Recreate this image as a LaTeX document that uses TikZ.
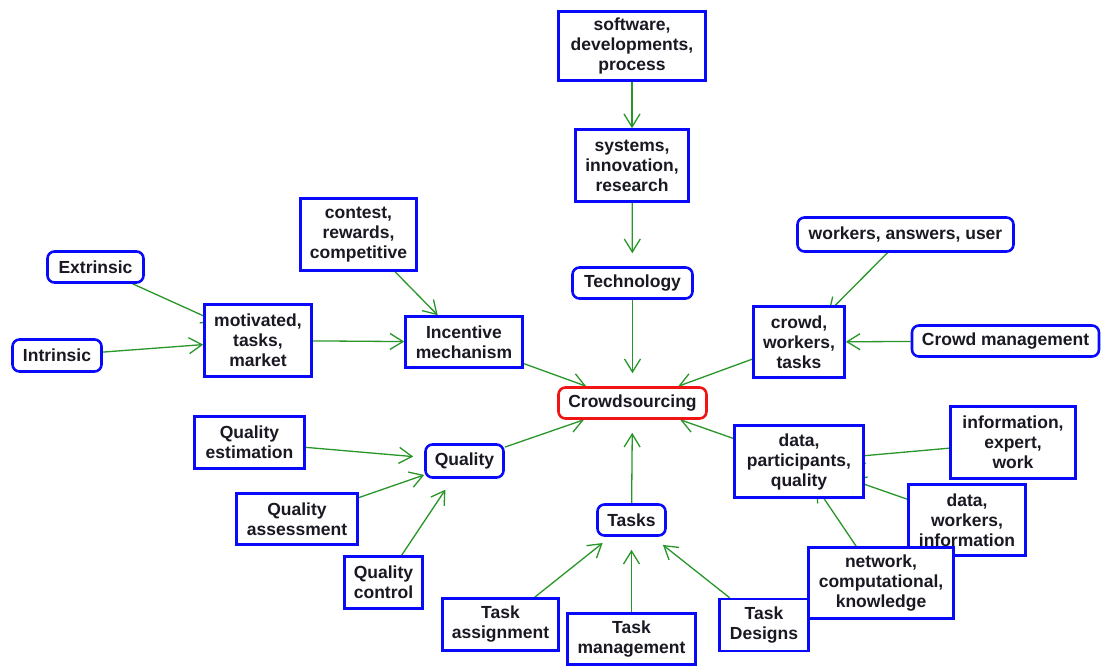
\documentclass[tikz,border=0pt]{standalone}
\usepackage{fontspec}
\setmainfont{Liberation Sans}
\usetikzlibrary{arrows.meta}
\pgfdeclarelayer{bg}
\pgfsetlayers{bg,main}
\definecolor{nodeblue}{RGB}{10,10,250}
\definecolor{nodered}{RGB}{240,20,20}
\definecolor{edgegreen}{RGB}{40,150,40}
\definecolor{txt}{RGB}{25,25,35}
\tikzset{
  box/.style={draw=nodeblue, line width=2.6pt, fill=white, inner sep=0pt, align=center,
    text=txt, font=\bfseries\fontsize{17.5}{20}\selectfont},
  rbox/.style={box, rounded corners=7pt},
  cbox/.style={rbox, draw=nodered},
  link/.style={draw=edgegreen, line width=1.3pt, -{Straight Barb[length=13pt,width=16pt]}},
  hid/.style={link, shorten >=-14pt},
}
\newcommand{\bx}[6]{\node[#1, minimum width=#4pt, minimum height=#5pt] (#2) at (#3) {#6};}
\begin{document}
\begin{tikzpicture}[x=1pt, y=-1pt]
\useasboundingbox (0,0) rectangle (1101,667);
\begin{pgfonlayer}{bg}
\fill[white] (0,0) rectangle (1101,667);
\end{pgfonlayer}
\bx{box}{software}{632,46}{147}{69}{software,\\developments,\\process}
\bx{box}{systems}{632,165.5}{113}{72}{systems,\\innovation,\\research}
\bx{rbox}{tech}{632.5,283}{120}{31}{Technology}
\bx{cbox}{crowds}{632.5,403}{148}{31}{Crowdsourcing}
\bx{box}{contest}{358.5,234.5}{116}{72}{contest,\\rewards,\\competitive}
\bx{rbox}{extr}{95.5,267}{96}{31}{Extrinsic}
\bx{rbox}{intr}{57,355.5}{89}{32}{Intrinsic}
\bx{box}{motiv}{258,340.5}{107}{72}{motivated,\\tasks,\\market}
\bx{box}{incent}{464,342}{117}{51}{Incentive\\mechanism}
\bx{rbox}{wau}{905.5,234.5}{216}{34}{workers, answers, user}
\bx{box}{crowd}{799,342}{91}{71}{crowd,\\workers,\\tasks}
\bx{rbox}{cm}{1005.5,341}{187}{31}{Crowd management}
\bx{box}{qest}{249.5,442.5}{110}{52}{Quality\\estimation}
\bx{rbox}{qual}{464.5,461}{78}{33}{Quality}
\bx{box}{qass}{297,519}{121}{51}{Quality\\assessment}
\bx{box}{qctl}{383.5,582.5}{78}{52}{Quality\\control}
\bx{rbox}{tasks}{631.5,520}{68}{31}{Tasks}
\bx{box}{tassign}{500.5,624.5}{116}{52}{Task\\assignment}
\bx{box}{tmgmt}{631.5,639}{128}{51}{Task\\management}
\bx{box}{dpq}{799,461.5}{129}{72}{data,\\participants,\\quality}
\bx{box}{iew}{1013,442.5}{125}{72}{information,\\expert,\\work}
\bx{box}{dwi}{967,520}{117}{71}{data,\\workers,\\information}
\bx{box}{nck}{881,583}{145}{71}{network,\\computational,\\knowledge}
\bx{box}{tdes}{764,625}{89}{52}{Task\\Designs}
\begin{pgfonlayer}{bg}
\draw[link] (software) -- (systems);
\draw[link, shorten >=13pt] (systems) -- (tech);
\draw[link, shorten >=13pt] (tech) -- (crowds);
\draw[link] (contest) -- (incent);
\draw[link] (motiv) -- (incent);
\draw[hid] (extr) -- (motiv);
\draw[link] (intr) -- (motiv);
\draw[link] (incent) -- (crowds);
\draw[link, shorten >=-10pt] (wau) -- (crowd);
\draw[link] (cm) -- (crowd);
\draw[link] (crowd) -- (crowds);
\draw[link, shorten >=11pt] (qest) -- (qual);
\draw[link] (qass) -- (qual);
\draw[link, shorten >=13pt] (qctl) -- (qual);
\draw[link] (qual) -- (crowds);
\draw[link, shorten >=10pt] (tassign) -- (tasks);
\draw[link, shorten >=13pt] (tmgmt) -- (tasks);
\draw[link, shorten >=13pt] (tdes) -- (tasks);
\draw[link, shorten >=13pt] (tasks) -- (crowds);
\draw[link] (dpq) -- (crowds);
\draw[hid] (iew) -- (dpq);
\draw[hid] (dwi) -- (dpq);
\draw[hid] (nck) -- (dpq);
\end{pgfonlayer}
\end{tikzpicture}
\end{document}
